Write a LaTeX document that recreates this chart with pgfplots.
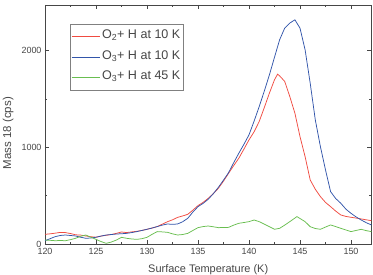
\documentclass[border=0pt]{standalone}
\usepackage{pgfplots}
\pgfplotsset{compat=1.18}
\usepackage{fontspec}
\setmainfont{Liberation Sans}
\definecolor{cred}{RGB}{240,75,65}
\definecolor{cblue}{RGB}{50,85,170}
\definecolor{cgreen}{RGB}{105,190,80}
\definecolor{axgray}{RGB}{70,70,70}
\begin{document}
\begin{tikzpicture}
\begin{axis}[
  at={(0,0)}, anchor=south west,
  scale only axis, width=326.4bp, height=239bp,
  xmin=120, xmax=152, ymin=0, ymax=2470,
  xtick={120,125,...,150}, ytick={0,1000,2000},
  minor xtick={122.5,127.5,...,152}, minor ytick={500,1500},
  tick align=inside, major tick length=4bp, minor tick length=2.5bp,
  axis line style={axgray, line width=0.6pt},
  every tick/.style={axgray, line width=0.6pt},
  tick label style={font=\fontsize{9}{10}\selectfont, text=axgray},
  /pgf/number format/assume math mode=true,
  /pgf/number format/1000 sep={},
  xticklabel style={yshift=-1bp},
  xlabel={Surface Temperature (K)},
  xlabel style={at={(axis description cs:0.5,0)}, anchor=base, yshift=-28bp, font=\fontsize{11}{12}\selectfont, text=axgray},
  ylabel={Mass 18 (cps)},
  ylabel style={at={(axis description cs:-0.113,0.464)}, anchor=center, font=\fontsize{11.5}{12}\selectfont, text=axgray},
  legend style={at={(axis description cs:0.0766,0.92)}, anchor=north west, draw=gray, line width=0.6pt,
    font=\fontsize{12.6}{14}\selectfont, text=axgray, row sep=0bp, inner xsep=1bp, inner ysep=2bp,
    nodes={text height=10.5bp, text depth=6bp}},
  legend cell align=left,
  legend image code/.code={\draw[#1] (0bp,0bp) -- (28bp,0bp);},
]
\addplot[cred, line width=0.75pt] coordinates {
(120,100)(120.5,105)(121,112)(121.5,120)(122,118)(122.5,108)(123,95)(123.5,92)(124,83)(124.5,75)(125,70)(125.5,82)(126,90)(126.5,98)(127,110)(127.5,124)(128,118)(128.5,125)(129,131)(129.5,140)(130,152)(130.5,165)(131,180)(131.5,205)(132,230)(132.5,250)(133,275)(133.5,290)(134,307)(134.5,350)(135,397)(135.5,430)(136,472)(136.5,520)(137,576)(137.5,650)(138,731)(138.5,810)(139,886)(139.5,980)(140,1076)(140.5,1160)(141,1266)(141.5,1410)(142,1559)(142.5,1697)(142.8,1755)(143,1738)(143.5,1680)(144,1524)(144.5,1352)(145,1110)(145.5,903)(146,662)(146.5,566)(147,490)(147.5,430)(148,386)(148.5,340)(149,300)(149.5,285)(150,276)(150.5,268)(151,259)(151.5,250)(152,241)
};
\addlegendentry{O\textsubscript{2}+ H at 10 K}
\addplot[cblue, line width=0.75pt] coordinates {
(120,34)(120.5,55)(121,76)(121.5,88)(122,93)(122.5,88)(123,83)(123.5,70)(124,59)(124.5,62)(125,70)(125.5,82)(126,93)(126.5,98)(127,103)(127.5,106)(128,110)(128.5,118)(129,128)(129.5,140)(130,152)(130.5,165)(131,180)(131.5,195)(132,207)(132.5,203)(133,207)(133.5,230)(134,266)(134.5,330)(135,386)(135.5,420)(136,462)(136.5,520)(137,586)(137.5,660)(138,738)(138.5,840)(139,938)(139.5,1030)(140,1128)(140.5,1270)(141,1420)(141.5,1580)(142,1748)(142.5,1930)(143,2110)(143.5,2231)(144,2283)(144.5,2317)(145,2231)(145.5,2007)(146,1662)(146.5,1283)(147,1007)(147.5,766)(148,541)(148.5,470)(149,421)(149.5,360)(150,317)(150.5,280)(151,248)(151.5,220)(152,197)
};
\addlegendentry{O\textsubscript{3}+ H at 10 K}
\addplot[cgreen, line width=0.75pt] coordinates {
(120,41)(120.5,38)(121,34)(121.5,36)(122,34)(122.5,45)(123,59)(123.5,80)(124,93)(124.5,70)(125,48)(125.5,25)(126,7)(126.5,20)(127,41)(127.5,69)(128,59)(128.5,52)(129,48)(129.5,55)(130,69)(130.5,100)(131,128)(131.5,125)(132,121)(132.5,105)(133,93)(133.5,98)(134,110)(134.5,140)(135,169)(135.5,180)(136,186)(136.5,178)(137,169)(137.5,170)(138,172)(138.5,195)(139,214)(139.5,222)(140,231)(140.5,248)(141,231)(141.5,205)(142,179)(142.5,152)(143,162)(143.5,195)(144,231)(144.7,283)(145.5,231)(146,179)(146.5,160)(147,152)(147.5,175)(148,197)(148.5,180)(149,162)(149.5,145)(150,128)(150.5,140)(151,152)(151.5,138)(152,128)
};
\addlegendentry{O\textsubscript{3}+ H at 45 K}
\end{axis}
\pgfresetboundingbox
\useasboundingbox (-45bp,-31bp) rectangle (328bp,244bp);
\end{tikzpicture}
\end{document}
